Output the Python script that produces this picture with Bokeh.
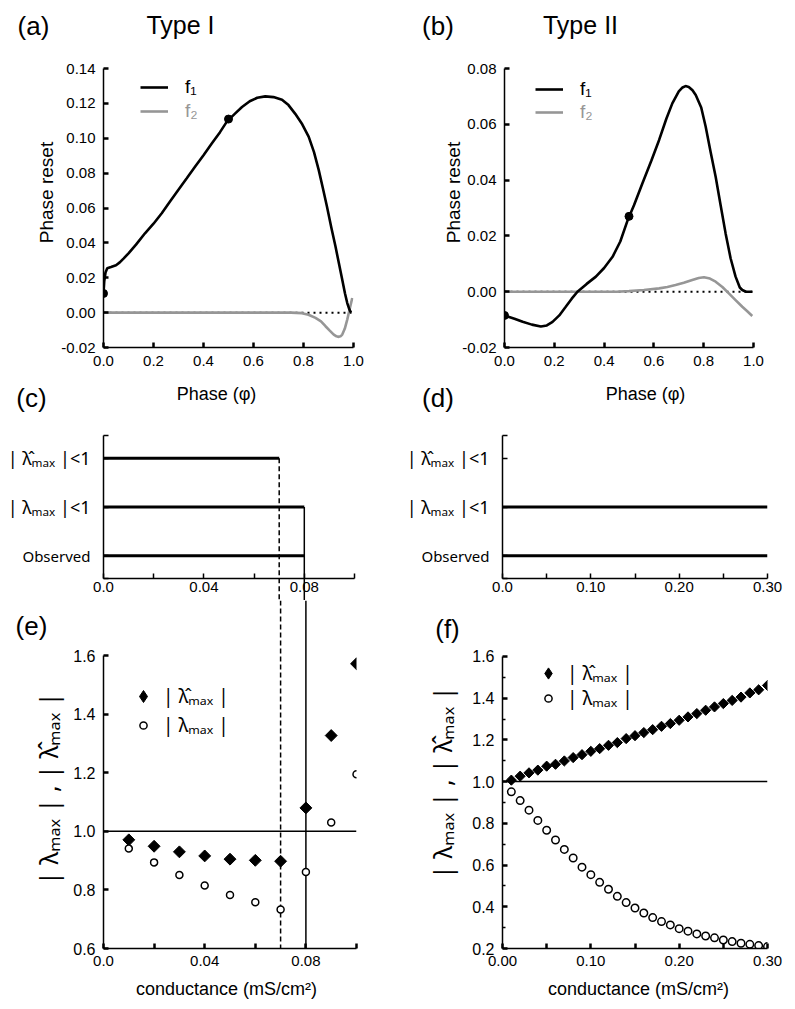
import numpy as np
from bokeh.plotting import figure
from bokeh.models import (Range1d, FixedTicker, CustomJSTickFormatter, Span,
                          Legend, LegendItem)
from bokeh.layouts import column, row
from bokeh.embed import file_html
from bokeh.resources import INLINE
from bokeh.core.properties import value

FONT = "Liberation Sans"
GFONT = "Noto Sans"          # for texts with a hat accent
GRAY = "#969696"

# ---------------- (a) Type I : phase resetting curves ----------------
a_f1_phase = [0.0, 0.003, 0.008, 0.015, 0.03, 0.05, 0.065, 0.08, 0.10, 0.13, 0.166, 0.20,
              0.233, 0.266, 0.299, 0.333, 0.366, 0.40, 0.433, 0.466, 0.494, 0.525, 0.554,
              0.585, 0.615, 0.647, 0.68, 0.714, 0.74, 0.767, 0.795, 0.821, 0.842, 0.861,
              0.878, 0.894, 0.911, 0.928, 0.942, 0.955, 0.966, 0.975, 0.983, 0.99]
a_f1_value = [0.011, 0.018, 0.023, 0.0255, 0.0262, 0.0272, 0.0288, 0.031, 0.034, 0.039,
              0.0455, 0.051, 0.057, 0.0637, 0.0703, 0.077, 0.0836, 0.0903, 0.097, 0.1035,
              0.1097, 0.114, 0.1179, 0.1212, 0.1232, 0.124, 0.1236, 0.1221, 0.119, 0.114,
              0.108, 0.1008, 0.092, 0.0817, 0.071, 0.0607, 0.049, 0.0379, 0.028, 0.0189,
              0.011, 0.0055, 0.002, 0.0]
a_f2_phase = [0.0, 0.75, 0.794, 0.82, 0.848, 0.87, 0.888, 0.905, 0.921, 0.932, 0.941, 0.948,
              0.955, 0.965, 0.975, 0.985, 0.995]
a_f2_value = [0.0, 0.0, -0.0003, -0.0012, -0.003, -0.005, -0.0078, -0.0103, -0.0126,
              -0.0136, -0.0139, -0.0136, -0.0126, -0.0093, -0.004, 0.0022, 0.0084]
a_dot_phase = [0.0, 0.5]
a_dot_value = [0.011, 0.111]

# ---------------- (b) Type II : phase resetting curves ----------------
b_f1_phase = [0.0, 0.04, 0.073, 0.11, 0.146, 0.17, 0.193, 0.22, 0.246, 0.27, 0.293, 0.33,
              0.367, 0.40, 0.434, 0.465, 0.494, 0.52, 0.554, 0.59, 0.621, 0.65, 0.674, 0.70,
              0.715, 0.727, 0.74, 0.755, 0.768, 0.79, 0.808, 0.828, 0.848, 0.868, 0.888,
              0.908, 0.928, 0.945, 0.955, 0.97, 0.995]
b_f1_value = [-0.0085, -0.0097, -0.0108, -0.0118, -0.0125, -0.0121, -0.0108, -0.0085,
              -0.0054, -0.0025, 0.0, 0.0028, 0.0054, 0.0085, 0.0125, 0.018, 0.0255, 0.031,
              0.0389, 0.047, 0.0544, 0.062, 0.0675, 0.0718, 0.0732, 0.0737, 0.0734, 0.0722,
              0.0705, 0.066, 0.0591, 0.050, 0.0412, 0.031, 0.0209, 0.012, 0.0054, 0.0015,
              0.0006, 0.0, 0.0]
b_f2_phase = [0.0, 0.45, 0.5, 0.56, 0.621, 0.654, 0.687, 0.72, 0.754, 0.78, 0.801, 0.825,
              0.848, 0.875, 0.901, 0.928, 0.955, 0.975, 0.995]
b_f2_value = [0.0, 0.0, 0.0002, 0.0006, 0.0012, 0.0017, 0.0024, 0.0032, 0.0042, 0.0049,
              0.0052, 0.0047, 0.0036, 0.0017, -0.0006, -0.003, -0.0054, -0.007, -0.0087]
b_dot_phase = [0.0, 0.5]
b_dot_value = [-0.0085, 0.027]

# ---------------- (c)/(d) stability ranges ----------------
stab_levels = [3, 2, 1]
stab_names = ["| λ̂ₘₐₓ |<1", "| λₘₐₓ |<1", "Observed"]
stab_sizes = ["18px", "18px", "15px"]
c_limits = [0.07, 0.08, 0.08]        # upper conductance of each range, Type I
d_levels = [2, 1]
d_limits = [0.30, 0.30]              # Type II

# ---------------- (e) Type I eigenvalues ----------------
e_g = [0.01, 0.02, 0.03, 0.04, 0.05, 0.06, 0.07, 0.08, 0.09, 0.10]
e_hat = [0.971, 0.949, 0.930, 0.916, 0.905, 0.901, 0.898, 1.080, 1.327, 1.572]
e_lam = [0.941, 0.894, 0.851, 0.815, 0.783, 0.758, 0.733, 0.861, 1.030, 1.195]

# ---------------- (f) Type II eigenvalues ----------------
f_g = [0.01, 0.02, 0.03, 0.04, 0.05, 0.06, 0.07, 0.08, 0.09, 0.10,
       0.11, 0.12, 0.13, 0.14, 0.15, 0.16, 0.17, 0.18, 0.19, 0.20,
       0.21, 0.22, 0.23, 0.24, 0.25, 0.26, 0.27, 0.28, 0.29, 0.30]
f_hat = [1.007, 1.026, 1.042, 1.055, 1.074, 1.083, 1.099, 1.115, 1.129, 1.145,
         1.158, 1.174, 1.187, 1.206, 1.220, 1.235, 1.249, 1.265, 1.278, 1.294,
         1.310, 1.326, 1.342, 1.358, 1.374, 1.389, 1.405, 1.425, 1.440, 1.461]
f_lam = [0.951, 0.909, 0.863, 0.814, 0.767, 0.720, 0.675, 0.634, 0.590, 0.554,
         0.517, 0.484, 0.450, 0.420, 0.394, 0.370, 0.348, 0.329, 0.313, 0.295,
         0.283, 0.270, 0.260, 0.251, 0.241, 0.233, 0.225, 0.220, 0.214, 0.209]

# ---------------- tick labels ----------------
a_xticks = [0.0, 0.2, 0.4, 0.6, 0.8, 1.0]
a_xlabels = ["0.0", "0.2", "0.4", "0.6", "0.8", "1.0"]
a_yticks = [-0.02, 0.0, 0.02, 0.04, 0.06, 0.08, 0.10, 0.12, 0.14]
a_ylabels = ["-0.02", "0.00", "0.02", "0.04", "0.06", "0.08", "0.10", "0.12", "0.14"]
b_yticks = [-0.02, 0.0, 0.02, 0.04, 0.06, 0.08]
b_ylabels = ["-0.02", "0.00", "0.02", "0.04", "0.06", "0.08"]
c_xticks = [0.0, 0.02, 0.04, 0.06, 0.08, 0.10]
c_xlabels = ["0.0", "", "0.04", "", "0.08", ""]
d_xticks = [0.0, 0.05, 0.10, 0.15, 0.20, 0.25, 0.30]
d_xlabels = ["0.0", "", "0.10", "", "0.20", "", "0.30"]
f_xlabels = ["0.00", "", "0.10", "", "0.20", "", "0.30"]
e_yticks = [0.6, 0.8, 1.0, 1.2, 1.4, 1.6]
e_ylabels = ["0.6", "0.8", "1.0", "1.2", "1.4", "1.6"]
f_yticks = [0.2, 0.4, 0.6, 0.8, 1.0, 1.2, 1.4, 1.6]
f_ylabels = ["0.2", "0.4", "0.6", "0.8", "1.0", "1.2", "1.4", "1.6"]
f_yminor = [0.3, 0.5, 0.7, 0.9, 1.1, 1.3, 1.5]

C_LO, C_HI = 0.53, 3.47
E_TOP = 1.788
F_TOP = 1.868

FMT = "const i = tv.findIndex(t => Math.abs(t - tick) < 1e-9); return i >= 0 ? tl[i] : '';"


def fig(w, h, l, r, t, b, xr, yr):
    p = figure(width=w, height=h, min_border_left=l, min_border_right=r,
               min_border_top=t, min_border_bottom=b, title=None,
               x_range=Range1d(*xr), y_range=Range1d(*yr),
               output_backend="svg", toolbar_location=None, tools="")
    p.outline_line_color = None
    p.xgrid.visible = False
    p.ygrid.visible = False
    return p


def style_axis(ax, ticks, labels, minor=(), tick_w=2.5, standoff=8, size=15, tick_len=5,
               font=FONT):
    ax.ticker = FixedTicker(ticks=list(ticks), minor_ticks=list(minor))
    ax.formatter = CustomJSTickFormatter(args=dict(tv=list(ticks), tl=list(labels)), code=FMT)
    ax.axis_line_width = 1.5
    ax.axis_line_color = "black"
    ax.major_tick_in = tick_len
    ax.major_tick_out = 0
    ax.major_tick_line_width = tick_w
    ax.major_tick_line_color = "black"
    ax.minor_tick_in = 3
    ax.minor_tick_out = 0
    ax.minor_tick_line_width = 1.5
    ax.minor_tick_line_color = "black"
    ax.major_label_text_font = font
    ax.major_label_text_font_size = f"{size}px"
    ax.major_label_standoff = standoff
    ax.major_label_text_color = "black"


def txt(p, fx, fb, x, y, text, size, angle=0.0, color="black", font=FONT):
    """Free text anchored at the frame's lower-left corner, offset in pixels."""
    p.text(x=[p.x_range.start], y=[p.y_range.start], text=[text],
           x_offset=x - fx, y_offset=y - fb, angle=angle,
           text_font=value(font), text_font_size=f"{size}px", text_align="center",
           text_baseline="middle", text_color=color, level="overlay")


def stab_labels(p, levels, names, sizes):
    """Row names of the stability panels, just left of the y axis."""
    p.text(x=[p.x_range.start] * len(levels), y=levels, text=names, x_offset=-13,
           text_font=value(GFONT), text_font_size=sizes, text_align="right",
           text_baseline="middle", text_color="black", level="overlay")


def legend(p, items, x, y, gw, gh, spacing, standoff, size, color="black", font=FONT):
    lg = Legend(items=items, location=(x, y), padding=0, margin=0, spacing=spacing,
                glyph_width=gw, glyph_height=gh, label_height=gh, label_standoff=standoff,
                label_text_font=font, label_text_font_size=f"{size}px",
                label_text_color=color, border_line_color=None, background_fill_alpha=0)
    p.add_layout(lg)


# ======================= (a) =======================
pa = fig(400, 414, 103, 47, 68, 67, (0.0, 1.0), (-0.02, 0.14))
style_axis(pa.xaxis[0], a_xticks, a_xlabels, standoff=8)
style_axis(pa.yaxis[0], a_yticks, a_ylabels, standoff=8)
pa.add_layout(Span(location=0.0, dimension="width", line_dash="2 4", line_width=2,
                   line_color="black", level="underlay"))
ra2 = pa.line(a_f2_phase, a_f2_value, line_color=GRAY, line_width=2.6)
ra1 = pa.line(a_f1_phase, a_f1_value, line_color="black", line_width=2.6)
pa.scatter(a_dot_phase, a_dot_value, marker="circle", size=8, color="black")
legend(pa, [LegendItem(label="f₁", renderers=[ra1])], 37, 249, 28, 20, 0, 17, 19)
legend(pa, [LegendItem(label="f₂", renderers=[ra2])], 37, 225, 28, 20, 0, 17, 19, GRAY)
FXa, FBa = 103, 347
txt(pa, FXa, FBa, 33, 25, "(a)", 26)
txt(pa, FXa, FBa, 180, 24, "Type I", 25)
txt(pa, FXa, FBa, 45.5, 192, "Phase reset", 19, angle=np.pi / 2)
txt(pa, FXa, FBa, 216, 393, "Phase (φ)", 18)
txt(pa, FXa, FBa, 31, 397, "(c)", 26)

# ======================= (b) =======================
pb = fig(394, 414, 104, 41, 68, 67, (0.0, 1.0), (-0.02, 0.08))
style_axis(pb.xaxis[0], a_xticks, a_xlabels, standoff=8)
style_axis(pb.yaxis[0], b_yticks, b_ylabels, standoff=8)
pb.add_layout(Span(location=0.0, dimension="width", line_dash="2 4", line_width=2,
                   line_color="black", level="underlay"))
rb2 = pb.line(b_f2_phase, b_f2_value, line_color=GRAY, line_width=2.6)
rb1 = pb.line(b_f1_phase, b_f1_value, line_color="black", line_width=2.6)
pb.scatter(b_dot_phase, b_dot_value, marker="circle", size=8, color="black")
legend(pb, [LegendItem(label="f₁", renderers=[rb1])], 31, 247, 28, 20, 0, 17, 19)
legend(pb, [LegendItem(label="f₂", renderers=[rb2])], 31, 224, 28, 20, 0, 17, 19, GRAY)
FXb, FBb = 504, 347
txt(pb, FXb, FBb, 437.5, 25, "(b)", 26)
txt(pb, FXb, FBb, 580, 24, "Type II", 25)
txt(pb, FXb, FBb, 453, 192, "Phase reset", 19, angle=np.pi / 2)
txt(pb, FXb, FBb, 645, 393, "Phase (φ)", 18)
txt(pb, FXb, FBb, 437.5, 397, "(d)", 26)

# ======================= (c) =======================
pc = fig(400, 186, 103, 46, 21, 22, (0.0, 0.10), (C_LO, C_HI))
style_axis(pc.xaxis[0], c_xticks, c_xlabels, tick_w=1.5, standoff=3)
style_axis(pc.yaxis[0], [C_LO] + stab_levels + [C_HI], [""] * 5, tick_w=1.5)
stab_labels(pc, stab_levels, stab_names, stab_sizes)
pc.segment(x0=[0.0] * 3, y0=stab_levels, x1=c_limits, y1=stab_levels,
           line_width=3, line_color="black")
# threshold lines continue down into panel (e)
pc.segment(x0=[c_limits[0]], y0=[stab_levels[0]], x1=[c_limits[0]], y1=[C_LO - 1.0],
           line_width=1.5, line_color="black", line_dash="5 3", level="overlay")
pc.segment(x0=[c_limits[1]], y0=[stab_levels[1]], x1=[c_limits[1]], y1=[C_LO - 1.0],
           line_width=1.5, line_color="black", level="overlay")

# ======================= (d) =======================
pd_ = fig(394, 186, 102, 27, 21, 22, (0.0, 0.30), (C_LO, C_HI))
style_axis(pd_.xaxis[0], d_xticks, d_xlabels, tick_w=1.5, standoff=3)
style_axis(pd_.yaxis[0], [C_LO] + stab_levels + [C_HI], [""] * 5, tick_w=1.5)
stab_labels(pd_, stab_levels, stab_names, stab_sizes)
pd_.segment(x0=[0.0] * 2, y0=d_levels, x1=d_limits, y1=d_levels,
            line_width=3, line_color="black")

# ======================= (e) =======================
pe = fig(400, 405, 103, 44, 0, 57, (0.0, 0.10), (0.6, E_TOP))
style_axis(pe.xaxis[0], c_xticks, c_xlabels, standoff=7)
style_axis(pe.yaxis[0], e_yticks, e_ylabels, standoff=8, size=16)
pe.yaxis[0].bounds = (0.6, 1.6)
pe.add_layout(Span(location=1.0, dimension="width", line_width=1.5, line_color="black",
                   level="underlay"))
pe.add_layout(Span(location=c_limits[0], dimension="height", line_width=1.5,
                   line_color="black", line_dash="5 3", level="underlay"))
pe.add_layout(Span(location=c_limits[1], dimension="height", line_width=1.5,
                   line_color="black", level="underlay"))
pe.scatter(e_g, e_hat, marker="square", angle=np.pi / 4, size=8.4, color="black")
re2 = pe.scatter(e_g, e_lam, marker="circle", size=7, fill_color="white",
                 line_color="black", line_width=1.5)
ke1 = pe.scatter(x=[np.nan], y=[np.nan], marker="diamond", color="black")  # legend key
legend(pe, [LegendItem(label="| λ̂ₘₐₓ |", renderers=[ke1])], 25, 237, 30, 30, 0, 5, 19,
       font=GFONT)
legend(pe, [LegendItem(label="| λₘₐₓ |", renderers=[re2])], 31, 210, 18, 18, 0, 11, 19,
       font=GFONT)
FXe, FBe = 103, 948
txt(pe, FXe, FBe, 31, 625, "(e)", 26)
txt(pe, FXe, FBe, 47, 785, "| λₘₐₓ | ,  | λ̂ₘₐₓ |", 25, angle=np.pi / 2, font=GFONT)
txt(pe, FXe, FBe, 226, 988, "conductance (mS/cm²)", 18)

# ======================= (f) =======================
pf = fig(394, 405, 102, 27, 0, 57, (0.0, 0.30), (0.2, F_TOP))
style_axis(pf.xaxis[0], d_xticks, f_xlabels, standoff=7)
style_axis(pf.yaxis[0], f_yticks, f_ylabels, minor=f_yminor, standoff=8, size=16)
pf.yaxis[0].bounds = (0.2, 1.6)
pf.add_layout(Span(location=1.0, dimension="width", line_width=1.5, line_color="black",
                   level="underlay"))
pf.scatter(f_g, f_hat, marker="square", angle=np.pi / 4, size=7.2, color="black")
rf2 = pf.scatter(f_g, f_lam, marker="circle", size=7.5, fill_color="white",
                 line_color="black", line_width=1.5)
kf1 = pf.scatter(x=[np.nan], y=[np.nan], marker="diamond", color="black")  # legend key
legend(pf, [LegendItem(label="| λ̂ₘₐₓ |", renderers=[kf1])], 32, 261, 28, 28, 0, 5, 19,
       font=GFONT)
legend(pf, [LegendItem(label="| λₘₐₓ |", renderers=[rf2])], 37, 237, 18, 18, 0, 10, 19,
       font=GFONT)
FXf, FBf = 502, 948
txt(pf, FXf, FBf, 447, 628, "(f)", 26)
txt(pf, FXf, FBf, 441, 779, "| λₘₐₓ | ,  | λ̂ₘₐₓ |", 25, angle=np.pi / 2, font=GFONT)
txt(pf, FXf, FBf, 638, 988, "conductance (mS/cm²)", 18)

layout = column(row(pa, pb), row(pc, pd_), row(pe, pf))
open("out.html", "w").write(file_html(layout, INLINE))
